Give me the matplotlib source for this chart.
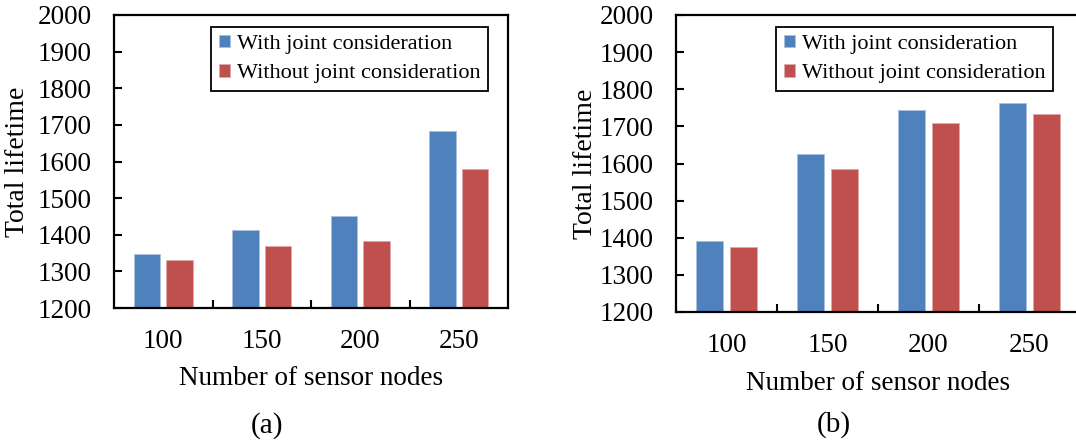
import numpy as np
import matplotlib.pyplot as plt

plt.rcParams['font.family'] = ['Liberation Serif', 'DejaVu Serif']

nodes = ['100', '150', '200', '250']
with_a = [1348, 1413, 1450, 1682]
without_a = [1330, 1368, 1382, 1580]
with_b = [1391, 1626, 1744, 1763]
without_b = [1374, 1584, 1708, 1733]
yticks = [1200, 1300, 1400, 1500, 1600, 1700, 1800, 1900, 2000]

blue = '#4F81BD'
red = '#C0504D'

fig = plt.figure(figsize=(10.76, 4.41), dpi=100)
ax1 = fig.add_axes([114/1076, 1-308/441, 394/1076, 293/441])
ax2 = fig.add_axes([676/1076, 1-312/441, 404/1076, 297/441])


def draw(ax, w, wo, leg_anchor, ylab_pos, xlab_pos):
    x = np.arange(len(nodes))
    bw = 0.27
    ax.bar(x - 0.165, w, bw, color=blue, edgecolor='#a9c0de', linewidth=0.6,
           label='With joint consideration')
    ax.bar(x + 0.165, wo, bw, color=red, edgecolor='#e0a8a6', linewidth=0.6,
           label='Without joint consideration')
    ax.set_xlim(-0.5, 3.5)
    ax.set_ylim(1200, 2000)
    ax.set_yticks(yticks)
    ax.set_xticks(x)
    ax.set_xticklabels(nodes)
    ax.set_xticks([0.5, 1.5, 2.5], minor=True)
    ax.tick_params(axis='x', which='major', length=0, pad=15, labelsize=19.5)
    ax.tick_params(axis='x', which='minor', direction='in', length=5.5, width=1.5)
    ax.tick_params(axis='y', direction='in', length=6, width=1.5, pad=16,
                   labelsize=19.5)
    for s in ax.spines.values():
        s.set_linewidth(1.6)
    ax.set_ylabel('Total lifetime', fontsize=20)
    ax.yaxis.set_label_coords(*ylab_pos)
    ax.yaxis.label.set_va('center')
    ax.set_xlabel('Number of sensor nodes', fontsize=19.5)
    ax.xaxis.set_label_coords(*xlab_pos)
    ax.xaxis.label.set_va('center')
    leg = ax.legend(loc='upper right', bbox_to_anchor=leg_anchor, borderaxespad=0,
                    fontsize=16, fancybox=False, edgecolor='black', framealpha=1,
                    handlelength=0.5, handleheight=0.5, handletextpad=0.3,
                    labelspacing=0.45, borderpad=0.35)
    leg.get_frame().set_linewidth(1.3)


draw(ax1, with_a, without_a, (0.949, 0.959), (-0.245, 0.5), (0.5, -0.24))
draw(ax2, with_b, without_b, (0.933, 0.96), (-0.225, 0.5), (0.5, -0.24))

fig.text(267/1076, 1-426/441, '(a)', fontsize=21, ha='center', va='center')
fig.text(834/1076, 1-425/441, '(b)', fontsize=21, ha='center', va='center')

fig.savefig('out.png', dpi=100)
